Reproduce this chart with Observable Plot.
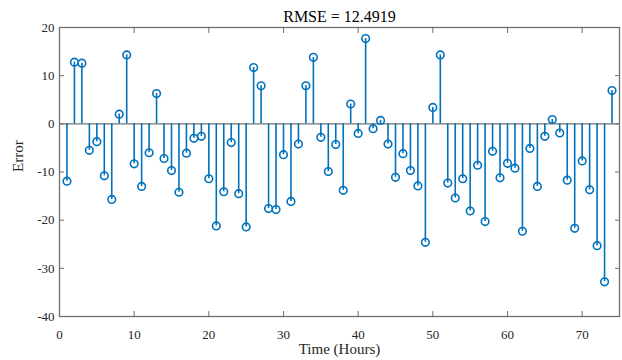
<!DOCTYPE html>
<html>
<head>
<meta charset="utf-8">
<script src="https://cdn.jsdelivr.net/npm/d3@7"></script>
<script src="https://cdn.jsdelivr.net/npm/@observablehq/plot@0.6"></script>
<style>
  html, body { margin: 0; padding: 0; background: #fff; }
  #chart svg { display: block; }
  #chart svg text { font-family: "Liberation Serif", "Times New Roman", serif; font-variant: normal; }
</style>
</head>
<body>
<div id="chart"></div>
<script>
const titleText = "RMSE = 12.4919";
const xLabel = "Time (Hours)";
const yLabel = "Error";
const hours = [1,2,3,4,5,6,7,8,9,10,11,12,13,14,15,16,17,18,19,20,21,22,23,24,25,26,27,28,29,30,31,32,33,34,35,36,37,38,39,40,41,42,43,44,45,46,47,48,49,50,51,52,53,54,55,56,57,58,59,60,61,62,63,64,65,66,67,68,69,70,71,72,73,74];
const errors = [-11.9,12.8,12.6,-5.5,-3.7,-10.8,-15.7,2.0,14.3,-8.3,-13.0,-6.0,6.3,-7.2,-9.7,-14.2,-6.1,-3.0,-2.6,-11.4,-21.2,-14.1,-3.9,-14.5,-21.4,11.7,7.9,-17.6,-17.8,-6.4,-16.1,-4.2,7.9,13.8,-2.8,-9.9,-4.3,-13.8,4.1,-2.0,17.7,-1.0,0.7,-4.2,-11.1,-6.2,-9.7,-12.9,-24.6,3.4,14.3,-12.3,-15.4,-11.4,-18.1,-8.6,-20.3,-5.7,-11.2,-8.2,-9.2,-22.3,-5.1,-13.0,-2.6,0.9,-1.9,-11.7,-21.7,-7.7,-13.7,-25.3,-32.8,6.9];
const xTicks = [0,10,20,30,40,50,60,70];
const yTicks = [-40,-30,-20,-10,0,10,20];
const xDomain = [0, 75];
const yDomain = [-40, 20];

const data = hours.map((t, i) => ({t, err: errors[i]}));
const axisColor = "#707070";
const stemColor = "#0072BD";
const serif = "'Liberation Serif', 'Times New Roman', serif";
const fmt = d => String(d);

const chart = Plot.plot({
  width: 622,
  height: 360,
  marginLeft: 59,
  marginRight: 3,
  marginTop: 27,
  marginBottom: 44,
  style: {fontFamily: serif, fontSize: "13px", color: "#262626", background: "#fff"},
  x: {domain: xDomain, ticks: xTicks},
  y: {domain: yDomain, ticks: yTicks},
  marks: [
    Plot.ruleY([0], {stroke: axisColor, strokeWidth: 1.2}),
    Plot.ruleX(data, {x: "t", y1: 0, y2: "err", stroke: stemColor, strokeWidth: 1.6}),
    Plot.dot(data, {x: "t", y: "err", r: 3.8, stroke: stemColor, strokeWidth: 1.6, fill: "none"}),
    Plot.frame({stroke: axisColor, strokeWidth: 1.3}),
    Plot.axisX({anchor: "bottom", ticks: xTicks, tickSize: 0, tickPadding: 13, label: null, fill: "#262626", tickFormat: fmt, fontFamily: serif, fontSize: 13}),
    Plot.axisX({anchor: "bottom", ticks: xTicks, tickSize: -5, tickFormat: () => "", label: null, stroke: axisColor}),
    Plot.axisX({anchor: "top", ticks: xTicks, tickSize: -5, tickFormat: () => "", label: null, stroke: axisColor}),
    Plot.axisY({anchor: "left", ticks: yTicks, tickSize: 0, tickPadding: 5, label: null, fill: "#262626", tickFormat: fmt, fontFamily: serif, fontSize: 13}),
    Plot.axisY({anchor: "left", ticks: yTicks, tickSize: -5, tickFormat: () => "", label: null, stroke: axisColor}),
    Plot.axisY({anchor: "right", ticks: yTicks, tickSize: -5, tickFormat: () => "", label: null, stroke: axisColor}),
    Plot.text([titleText], {text: d => d, frameAnchor: "top", lineAnchor: "middle", dy: -11, fontSize: 16, fontFamily: serif, fill: "#000"}),
    Plot.text([xLabel], {text: d => d, frameAnchor: "bottom", lineAnchor: "middle", dy: 33, fontSize: 15, fontFamily: serif, fill: "#262626"}),
    Plot.text([yLabel], {text: d => d, frameAnchor: "left", lineAnchor: "middle", rotate: -90, dx: -41, fontSize: 15, fontFamily: serif, fill: "#262626"})
  ]
});
document.getElementById("chart").appendChild(chart);
</script>
</body>
</html>
